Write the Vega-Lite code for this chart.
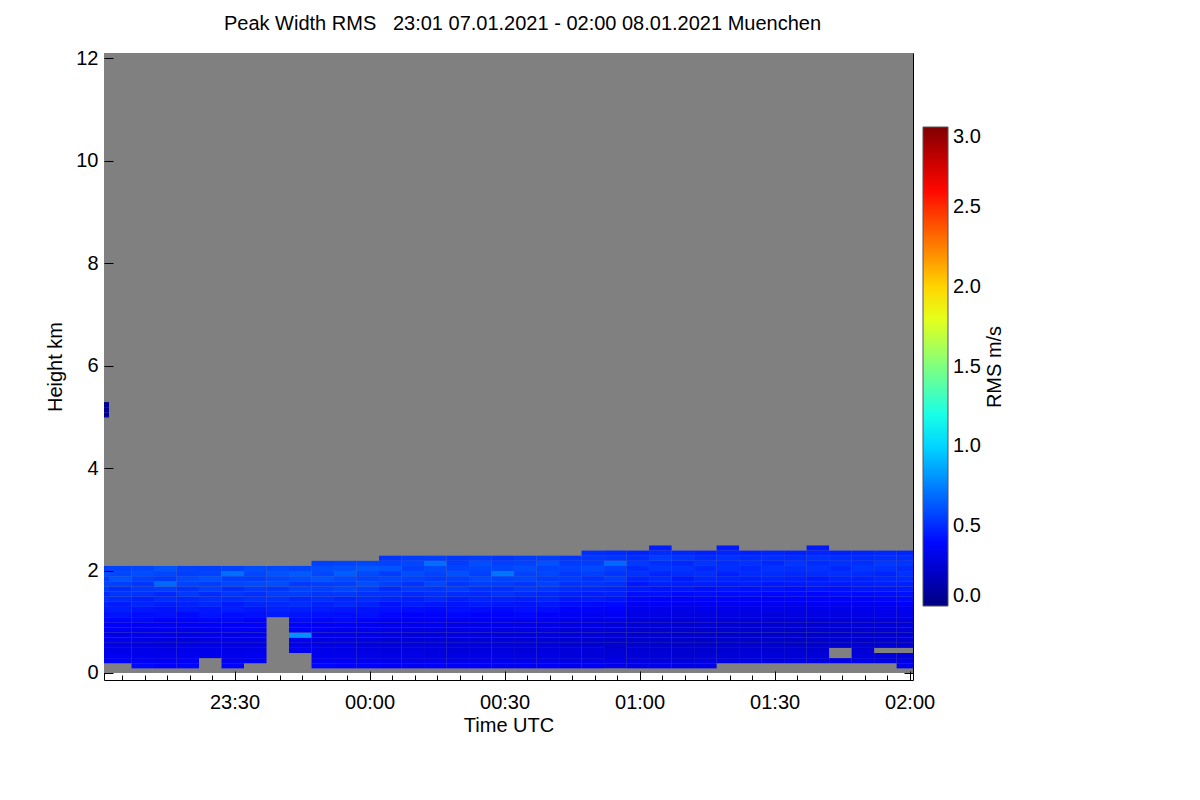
{
  "$schema": "https://vega.github.io/schema/vega-lite/v6.json",
  "width": 809,
  "height": 627,
  "autosize": {"type": "none"},
  "padding": {"left": 104, "top": 53, "right": 287, "bottom": 120},
  "background": "white",
  "title": {
    "text": "Peak Width RMS\u00a0\u00a0\u00a023:01 07.01.2021 - 02:00 08.01.2021 Muenchen",
    "font": "Liberation Sans",
    "fontSize": 20,
    "fontWeight": "normal",
    "color": "black",
    "anchor": "middle",
    "dx": 14,
    "offset": 9
  },
  "config": {
    "view": {"stroke": "black", "strokeWidth": 1},
    "font": "Liberation Sans",
    "axis": {
      "labelFont": "Liberation Sans",
      "titleFont": "Liberation Sans",
      "labelFontSize": 20,
      "titleFontSize": 20,
      "titleFontWeight": "normal",
      "labelColor": "black",
      "titleColor": "black",
      "tickColor": "black",
      "tickWidth": 1,
      "grid": false,
      "domain": false
    }
  },
  "datasets": {
    "bg": [{"m0": -5, "m1": 185, "h0": 0, "h1": 12.3}],
    "rms": [
      {"m":-3,"h":0.25,"v":0.36},{"m":-3,"h":0.35,"v":0.33},{"m":-3,"h":0.45,"v":0.31},{"m":-3,"h":0.55,"v":0.30},{"m":-3,"h":0.65,"v":0.32},{"m":-3,"h":0.75,"v":0.33},{"m":-3,"h":0.85,"v":0.36},{"m":-3,"h":0.95,"v":0.38},{"m":-3,"h":1.05,"v":0.40},{"m":-3,"h":1.15,"v":0.42},{"m":-3,"h":1.25,"v":0.45},{"m":-3,"h":1.35,"v":0.47},{"m":-3,"h":1.45,"v":0.52},{"m":-3,"h":1.55,"v":0.50},{"m":-3,"h":1.65,"v":0.55},{"m":-3,"h":1.75,"v":0.58},{"m":-3,"h":1.85,"v":0.56},{"m":-3,"h":1.95,"v":0.60},{"m":-3,"h":2.05,"v":0.55},
      {"m":-3,"h":5.05,"v":0.06},{"m":-3,"h":5.15,"v":0.05},{"m":-3,"h":5.25,"v":0.04},
      {"m":2,"h":0.25,"v":0.38},{"m":2,"h":0.35,"v":0.34},{"m":2,"h":0.45,"v":0.30},{"m":2,"h":0.55,"v":0.29},{"m":2,"h":0.65,"v":0.31},{"m":2,"h":0.75,"v":0.30},{"m":2,"h":0.85,"v":0.34},{"m":2,"h":0.95,"v":0.37},{"m":2,"h":1.05,"v":0.39},{"m":2,"h":1.15,"v":0.43},{"m":2,"h":1.25,"v":0.46},{"m":2,"h":1.35,"v":0.45},{"m":2,"h":1.45,"v":0.50},{"m":2,"h":1.55,"v":0.53},{"m":2,"h":1.65,"v":0.51},{"m":2,"h":1.75,"v":0.56},{"m":2,"h":1.85,"v":0.62},{"m":2,"h":1.95,"v":0.58},{"m":2,"h":2.05,"v":0.57},
      {"m":7,"h":0.15,"v":0.40},{"m":7,"h":0.25,"v":0.36},{"m":7,"h":0.35,"v":0.33},{"m":7,"h":0.45,"v":0.31},{"m":7,"h":0.55,"v":0.29},{"m":7,"h":0.65,"v":0.30},{"m":7,"h":0.75,"v":0.32},{"m":7,"h":0.85,"v":0.33},{"m":7,"h":0.95,"v":0.36},{"m":7,"h":1.05,"v":0.40},{"m":7,"h":1.15,"v":0.41},{"m":7,"h":1.25,"v":0.44},{"m":7,"h":1.35,"v":0.48},{"m":7,"h":1.45,"v":0.47},{"m":7,"h":1.55,"v":0.52},{"m":7,"h":1.65,"v":0.54},{"m":7,"h":1.75,"v":0.53},{"m":7,"h":1.85,"v":0.57},{"m":7,"h":1.95,"v":0.60},{"m":7,"h":2.05,"v":0.58},
      {"m":12,"h":0.15,"v":0.37},{"m":12,"h":0.25,"v":0.35},{"m":12,"h":0.35,"v":0.32},{"m":12,"h":0.45,"v":0.30},{"m":12,"h":0.55,"v":0.28},{"m":12,"h":0.65,"v":0.29},{"m":12,"h":0.75,"v":0.31},{"m":12,"h":0.85,"v":0.34},{"m":12,"h":0.95,"v":0.35},{"m":12,"h":1.05,"v":0.37},{"m":12,"h":1.15,"v":0.42},{"m":12,"h":1.25,"v":0.43},{"m":12,"h":1.35,"v":0.46},{"m":12,"h":1.45,"v":0.50},{"m":12,"h":1.55,"v":0.49},{"m":12,"h":1.65,"v":0.55},{"m":12,"h":1.75,"v":0.68},{"m":12,"h":1.85,"v":0.55},{"m":12,"h":1.95,"v":0.58},{"m":12,"h":2.05,"v":0.62},
      {"m":17,"h":0.15,"v":0.39},{"m":17,"h":0.25,"v":0.37},{"m":17,"h":0.35,"v":0.34},{"m":17,"h":0.45,"v":0.31},{"m":17,"h":0.55,"v":0.30},{"m":17,"h":0.65,"v":0.28},{"m":17,"h":0.75,"v":0.30},{"m":17,"h":0.85,"v":0.32},{"m":17,"h":0.95,"v":0.36},{"m":17,"h":1.05,"v":0.38},{"m":17,"h":1.15,"v":0.40},{"m":17,"h":1.25,"v":0.45},{"m":17,"h":1.35,"v":0.47},{"m":17,"h":1.45,"v":0.49},{"m":17,"h":1.55,"v":0.54},{"m":17,"h":1.65,"v":0.52},{"m":17,"h":1.75,"v":0.57},{"m":17,"h":1.85,"v":0.59},{"m":17,"h":1.95,"v":0.56},{"m":17,"h":2.05,"v":0.57},
      {"m":22,"h":0.35,"v":0.33},{"m":22,"h":0.45,"v":0.31},{"m":22,"h":0.55,"v":0.30},{"m":22,"h":0.65,"v":0.29},{"m":22,"h":0.75,"v":0.32},{"m":22,"h":0.85,"v":0.33},{"m":22,"h":0.95,"v":0.37},{"m":22,"h":1.05,"v":0.39},{"m":22,"h":1.15,"v":0.43},{"m":22,"h":1.25,"v":0.44},{"m":22,"h":1.35,"v":0.49},{"m":22,"h":1.45,"v":0.51},{"m":22,"h":1.55,"v":0.50},{"m":22,"h":1.65,"v":0.56},{"m":22,"h":1.75,"v":0.55},{"m":22,"h":1.85,"v":0.61},{"m":22,"h":1.95,"v":0.57},{"m":22,"h":2.05,"v":0.56},
      {"m":27,"h":0.15,"v":0.38},{"m":27,"h":0.25,"v":0.35},{"m":27,"h":0.35,"v":0.33},{"m":27,"h":0.45,"v":0.30},{"m":27,"h":0.55,"v":0.29},{"m":27,"h":0.65,"v":0.31},{"m":27,"h":0.75,"v":0.30},{"m":27,"h":0.85,"v":0.35},{"m":27,"h":0.95,"v":0.36},{"m":27,"h":1.05,"v":0.40},{"m":27,"h":1.15,"v":0.41},{"m":27,"h":1.25,"v":0.46},{"m":27,"h":1.35,"v":0.45},{"m":27,"h":1.45,"v":0.50},{"m":27,"h":1.55,"v":0.53},{"m":27,"h":1.65,"v":0.51},{"m":27,"h":1.75,"v":0.58},{"m":27,"h":1.85,"v":0.56},{"m":27,"h":1.95,"v":0.70},{"m":27,"h":2.05,"v":0.57},
      {"m":32,"h":0.25,"v":0.36},{"m":32,"h":0.35,"v":0.34},{"m":32,"h":0.45,"v":0.31},{"m":32,"h":0.55,"v":0.29},{"m":32,"h":0.65,"v":0.30},{"m":32,"h":0.75,"v":0.32},{"m":32,"h":0.85,"v":0.34},{"m":32,"h":0.95,"v":0.37},{"m":32,"h":1.05,"v":0.38},{"m":32,"h":1.15,"v":0.42},{"m":32,"h":1.25,"v":0.44},{"m":32,"h":1.35,"v":0.48},{"m":32,"h":1.45,"v":0.52},{"m":32,"h":1.55,"v":0.51},{"m":32,"h":1.65,"v":0.54},{"m":32,"h":1.75,"v":0.59},{"m":32,"h":1.85,"v":0.56},{"m":32,"h":1.95,"v":0.58},{"m":32,"h":2.05,"v":0.60},
      {"m":37,"h":1.15,"v":0.45},{"m":37,"h":1.25,"v":0.47},{"m":37,"h":1.35,"v":0.49},{"m":37,"h":1.45,"v":0.52},{"m":37,"h":1.55,"v":0.55},{"m":37,"h":1.65,"v":0.53},{"m":37,"h":1.75,"v":0.60},{"m":37,"h":1.85,"v":0.58},{"m":37,"h":1.95,"v":0.62},{"m":37,"h":2.05,"v":0.59},
      {"m":42,"h":0.45,"v":0.33},{"m":42,"h":0.55,"v":0.31},{"m":42,"h":0.65,"v":0.32},{"m":42,"h":0.75,"v":0.80},{"m":42,"h":0.85,"v":0.36},{"m":42,"h":0.95,"v":0.38},{"m":42,"h":1.05,"v":0.41},{"m":42,"h":1.15,"v":0.43},{"m":42,"h":1.25,"v":0.46},{"m":42,"h":1.35,"v":0.50},{"m":42,"h":1.45,"v":0.49},{"m":42,"h":1.55,"v":0.55},{"m":42,"h":1.65,"v":0.57},{"m":42,"h":1.75,"v":0.54},{"m":42,"h":1.85,"v":0.60},{"m":42,"h":1.95,"v":0.64},{"m":42,"h":2.05,"v":0.58},
      {"m":47,"h":0.15,"v":0.39},{"m":47,"h":0.25,"v":0.36},{"m":47,"h":0.35,"v":0.33},{"m":47,"h":0.45,"v":0.31},{"m":47,"h":0.55,"v":0.29},{"m":47,"h":0.65,"v":0.30},{"m":47,"h":0.75,"v":0.31},{"m":47,"h":0.85,"v":0.34},{"m":47,"h":0.95,"v":0.36},{"m":47,"h":1.05,"v":0.39},{"m":47,"h":1.15,"v":0.42},{"m":47,"h":1.25,"v":0.45},{"m":47,"h":1.35,"v":0.47},{"m":47,"h":1.45,"v":0.51},{"m":47,"h":1.55,"v":0.53},{"m":47,"h":1.65,"v":0.56},{"m":47,"h":1.75,"v":0.55},{"m":47,"h":1.85,"v":0.62},{"m":47,"h":1.95,"v":0.58},{"m":47,"h":2.05,"v":0.60},{"m":47,"h":2.15,"v":0.56},
      {"m":52,"h":0.15,"v":0.37},{"m":52,"h":0.25,"v":0.35},{"m":52,"h":0.35,"v":0.32},{"m":52,"h":0.45,"v":0.30},{"m":52,"h":0.55,"v":0.30},{"m":52,"h":0.65,"v":0.29},{"m":52,"h":0.75,"v":0.32},{"m":52,"h":0.85,"v":0.33},{"m":52,"h":0.95,"v":0.37},{"m":52,"h":1.05,"v":0.40},{"m":52,"h":1.15,"v":0.41},{"m":52,"h":1.25,"v":0.44},{"m":52,"h":1.35,"v":0.49},{"m":52,"h":1.45,"v":0.48},{"m":52,"h":1.55,"v":0.54},{"m":52,"h":1.65,"v":0.58},{"m":52,"h":1.75,"v":0.56},{"m":52,"h":1.85,"v":0.59},{"m":52,"h":1.95,"v":0.65},{"m":52,"h":2.05,"v":0.61},{"m":52,"h":2.15,"v":0.57},
      {"m":57,"h":0.15,"v":0.38},{"m":57,"h":0.25,"v":0.34},{"m":57,"h":0.35,"v":0.31},{"m":57,"h":0.45,"v":0.29},{"m":57,"h":0.55,"v":0.28},{"m":57,"h":0.65,"v":0.29},{"m":57,"h":0.75,"v":0.30},{"m":57,"h":0.85,"v":0.33},{"m":57,"h":0.95,"v":0.35},{"m":57,"h":1.05,"v":0.38},{"m":57,"h":1.15,"v":0.42},{"m":57,"h":1.25,"v":0.43},{"m":57,"h":1.35,"v":0.47},{"m":57,"h":1.45,"v":0.50},{"m":57,"h":1.55,"v":0.52},{"m":57,"h":1.65,"v":0.55},{"m":57,"h":1.75,"v":0.60},{"m":57,"h":1.85,"v":0.57},{"m":57,"h":1.95,"v":0.59},{"m":57,"h":2.05,"v":0.63},{"m":57,"h":2.15,"v":0.58},
      {"m":62,"h":0.15,"v":0.36},{"m":62,"h":0.25,"v":0.33},{"m":62,"h":0.35,"v":0.30},{"m":62,"h":0.45,"v":0.28},{"m":62,"h":0.55,"v":0.27},{"m":62,"h":0.65,"v":0.26},{"m":62,"h":0.75,"v":0.29},{"m":62,"h":0.85,"v":0.31},{"m":62,"h":0.95,"v":0.33},{"m":62,"h":1.05,"v":0.34},{"m":62,"h":1.15,"v":0.39},{"m":62,"h":1.25,"v":0.42},{"m":62,"h":1.35,"v":0.43},{"m":62,"h":1.45,"v":0.48},{"m":62,"h":1.55,"v":0.52},{"m":62,"h":1.65,"v":0.50},{"m":62,"h":1.75,"v":0.56},{"m":62,"h":1.85,"v":0.58},{"m":62,"h":1.95,"v":0.55},{"m":62,"h":2.05,"v":0.62},{"m":62,"h":2.15,"v":0.57},{"m":62,"h":2.25,"v":0.53},
      {"m":67,"h":0.15,"v":0.34},{"m":67,"h":0.25,"v":0.32},{"m":67,"h":0.35,"v":0.31},{"m":67,"h":0.45,"v":0.29},{"m":67,"h":0.55,"v":0.26},{"m":67,"h":0.65,"v":0.28},{"m":67,"h":0.75,"v":0.27},{"m":67,"h":0.85,"v":0.30},{"m":67,"h":0.95,"v":0.32},{"m":67,"h":1.05,"v":0.36},{"m":67,"h":1.15,"v":0.37},{"m":67,"h":1.25,"v":0.41},{"m":67,"h":1.35,"v":0.45},{"m":67,"h":1.45,"v":0.46},{"m":67,"h":1.55,"v":0.49},{"m":67,"h":1.65,"v":0.54},{"m":67,"h":1.75,"v":0.52},{"m":67,"h":1.85,"v":0.57},{"m":67,"h":1.95,"v":0.60},{"m":67,"h":2.05,"v":0.56},{"m":67,"h":2.15,"v":0.58},{"m":67,"h":2.25,"v":0.55},
      {"m":72,"h":0.15,"v":0.37},{"m":72,"h":0.25,"v":0.33},{"m":72,"h":0.35,"v":0.29},{"m":72,"h":0.45,"v":0.28},{"m":72,"h":0.55,"v":0.28},{"m":72,"h":0.65,"v":0.27},{"m":72,"h":0.75,"v":0.28},{"m":72,"h":0.85,"v":0.29},{"m":72,"h":0.95,"v":0.33},{"m":72,"h":1.05,"v":0.35},{"m":72,"h":1.15,"v":0.38},{"m":72,"h":1.25,"v":0.40},{"m":72,"h":1.35,"v":0.44},{"m":72,"h":1.45,"v":0.49},{"m":72,"h":1.55,"v":0.51},{"m":72,"h":1.65,"v":0.53},{"m":72,"h":1.75,"v":0.58},{"m":72,"h":1.85,"v":0.55},{"m":72,"h":1.95,"v":0.57},{"m":72,"h":2.05,"v":0.59},{"m":72,"h":2.15,"v":0.70},{"m":72,"h":2.25,"v":0.56},
      {"m":77,"h":0.15,"v":0.35},{"m":77,"h":0.25,"v":0.31},{"m":77,"h":0.35,"v":0.30},{"m":77,"h":0.45,"v":0.27},{"m":77,"h":0.55,"v":0.26},{"m":77,"h":0.65,"v":0.27},{"m":77,"h":0.75,"v":0.29},{"m":77,"h":0.85,"v":0.30},{"m":77,"h":0.95,"v":0.31},{"m":77,"h":1.05,"v":0.34},{"m":77,"h":1.15,"v":0.39},{"m":77,"h":1.25,"v":0.42},{"m":77,"h":1.35,"v":0.43},{"m":77,"h":1.45,"v":0.46},{"m":77,"h":1.55,"v":0.50},{"m":77,"h":1.65,"v":0.55},{"m":77,"h":1.75,"v":0.53},{"m":77,"h":1.85,"v":0.56},{"m":77,"h":1.95,"v":0.61},{"m":77,"h":2.05,"v":0.57},{"m":77,"h":2.15,"v":0.55},{"m":77,"h":2.25,"v":0.54},
      {"m":82,"h":0.15,"v":0.36},{"m":82,"h":0.25,"v":0.32},{"m":82,"h":0.35,"v":0.30},{"m":82,"h":0.45,"v":0.28},{"m":82,"h":0.55,"v":0.27},{"m":82,"h":0.65,"v":0.26},{"m":82,"h":0.75,"v":0.28},{"m":82,"h":0.85,"v":0.31},{"m":82,"h":0.95,"v":0.32},{"m":82,"h":1.05,"v":0.36},{"m":82,"h":1.15,"v":0.37},{"m":82,"h":1.25,"v":0.41},{"m":82,"h":1.35,"v":0.45},{"m":82,"h":1.45,"v":0.48},{"m":82,"h":1.55,"v":0.49},{"m":82,"h":1.65,"v":0.52},{"m":82,"h":1.75,"v":0.56},{"m":82,"h":1.85,"v":0.59},{"m":82,"h":1.95,"v":0.56},{"m":82,"h":2.05,"v":0.58},{"m":82,"h":2.15,"v":0.60},{"m":82,"h":2.25,"v":0.55},
      {"m":87,"h":0.15,"v":0.34},{"m":87,"h":0.25,"v":0.33},{"m":87,"h":0.35,"v":0.31},{"m":87,"h":0.45,"v":0.28},{"m":87,"h":0.55,"v":0.27},{"m":87,"h":0.65,"v":0.28},{"m":87,"h":0.75,"v":0.27},{"m":87,"h":0.85,"v":0.29},{"m":87,"h":0.95,"v":0.33},{"m":87,"h":1.05,"v":0.35},{"m":87,"h":1.15,"v":0.38},{"m":87,"h":1.25,"v":0.40},{"m":87,"h":1.35,"v":0.44},{"m":87,"h":1.45,"v":0.47},{"m":87,"h":1.55,"v":0.52},{"m":87,"h":1.65,"v":0.51},{"m":87,"h":1.75,"v":0.55},{"m":87,"h":1.85,"v":0.57},{"m":87,"h":1.95,"v":0.72},{"m":87,"h":2.05,"v":0.58},{"m":87,"h":2.15,"v":0.56},{"m":87,"h":2.25,"v":0.53},
      {"m":92,"h":0.15,"v":0.35},{"m":92,"h":0.25,"v":0.32},{"m":92,"h":0.35,"v":0.29},{"m":92,"h":0.45,"v":0.27},{"m":92,"h":0.55,"v":0.26},{"m":92,"h":0.65,"v":0.27},{"m":92,"h":0.75,"v":0.28},{"m":92,"h":0.85,"v":0.30},{"m":92,"h":0.95,"v":0.32},{"m":92,"h":1.05,"v":0.34},{"m":92,"h":1.15,"v":0.39},{"m":92,"h":1.25,"v":0.42},{"m":92,"h":1.35,"v":0.43},{"m":92,"h":1.45,"v":0.46},{"m":92,"h":1.55,"v":0.50},{"m":92,"h":1.65,"v":0.54},{"m":92,"h":1.75,"v":0.53},{"m":92,"h":1.85,"v":0.58},{"m":92,"h":1.95,"v":0.57},{"m":92,"h":2.05,"v":0.60},{"m":92,"h":2.15,"v":0.57},{"m":92,"h":2.25,"v":0.55},
      {"m":97,"h":0.15,"v":0.36},{"m":97,"h":0.25,"v":0.31},{"m":97,"h":0.35,"v":0.30},{"m":97,"h":0.45,"v":0.28},{"m":97,"h":0.55,"v":0.27},{"m":97,"h":0.65,"v":0.26},{"m":97,"h":0.75,"v":0.28},{"m":97,"h":0.85,"v":0.29},{"m":97,"h":0.95,"v":0.31},{"m":97,"h":1.05,"v":0.35},{"m":97,"h":1.15,"v":0.37},{"m":97,"h":1.25,"v":0.41},{"m":97,"h":1.35,"v":0.44},{"m":97,"h":1.45,"v":0.48},{"m":97,"h":1.55,"v":0.49},{"m":97,"h":1.65,"v":0.53},{"m":97,"h":1.75,"v":0.57},{"m":97,"h":1.85,"v":0.55},{"m":97,"h":1.95,"v":0.58},{"m":97,"h":2.05,"v":0.57},{"m":97,"h":2.15,"v":0.61},{"m":97,"h":2.25,"v":0.56},
      {"m":102,"h":0.15,"v":0.33},{"m":102,"h":0.25,"v":0.30},{"m":102,"h":0.35,"v":0.28},{"m":102,"h":0.45,"v":0.26},{"m":102,"h":0.55,"v":0.25},{"m":102,"h":0.65,"v":0.25},{"m":102,"h":0.75,"v":0.26},{"m":102,"h":0.85,"v":0.27},{"m":102,"h":0.95,"v":0.29},{"m":102,"h":1.05,"v":0.32},{"m":102,"h":1.15,"v":0.35},{"m":102,"h":1.25,"v":0.38},{"m":102,"h":1.35,"v":0.41},{"m":102,"h":1.45,"v":0.44},{"m":102,"h":1.55,"v":0.47},{"m":102,"h":1.65,"v":0.50},{"m":102,"h":1.75,"v":0.52},{"m":102,"h":1.85,"v":0.55},{"m":102,"h":1.95,"v":0.54},{"m":102,"h":2.05,"v":0.57},{"m":102,"h":2.15,"v":0.55},{"m":102,"h":2.25,"v":0.53},
      {"m":107,"h":0.15,"v":0.34},{"m":107,"h":0.25,"v":0.30},{"m":107,"h":0.35,"v":0.27},{"m":107,"h":0.45,"v":0.26},{"m":107,"h":0.55,"v":0.25},{"m":107,"h":0.65,"v":0.24},{"m":107,"h":0.75,"v":0.26},{"m":107,"h":0.85,"v":0.27},{"m":107,"h":0.95,"v":0.30},{"m":107,"h":1.05,"v":0.31},{"m":107,"h":1.15,"v":0.34},{"m":107,"h":1.25,"v":0.38},{"m":107,"h":1.35,"v":0.40},{"m":107,"h":1.45,"v":0.45},{"m":107,"h":1.55,"v":0.46},{"m":107,"h":1.65,"v":0.49},{"m":107,"h":1.75,"v":0.53},{"m":107,"h":1.85,"v":0.52},{"m":107,"h":1.95,"v":0.56},{"m":107,"h":2.05,"v":0.59},{"m":107,"h":2.15,"v":0.55},{"m":107,"h":2.25,"v":0.54},{"m":107,"h":2.35,"v":0.51},
      {"m":112,"h":0.15,"v":0.32},{"m":112,"h":0.25,"v":0.29},{"m":112,"h":0.35,"v":0.27},{"m":112,"h":0.45,"v":0.25},{"m":112,"h":0.55,"v":0.24},{"m":112,"h":0.65,"v":0.24},{"m":112,"h":0.75,"v":0.25},{"m":112,"h":0.85,"v":0.27},{"m":112,"h":0.95,"v":0.28},{"m":112,"h":1.05,"v":0.31},{"m":112,"h":1.15,"v":0.34},{"m":112,"h":1.25,"v":0.37},{"m":112,"h":1.35,"v":0.40},{"m":112,"h":1.45,"v":0.43},{"m":112,"h":1.55,"v":0.47},{"m":112,"h":1.65,"v":0.48},{"m":112,"h":1.75,"v":0.51},{"m":112,"h":1.85,"v":0.55},{"m":112,"h":1.95,"v":0.53},{"m":112,"h":2.05,"v":0.56},{"m":112,"h":2.15,"v":0.68},{"m":112,"h":2.25,"v":0.53},{"m":112,"h":2.35,"v":0.50},
      {"m":117,"h":0.15,"v":0.31},{"m":117,"h":0.25,"v":0.29},{"m":117,"h":0.35,"v":0.26},{"m":117,"h":0.45,"v":0.25},{"m":117,"h":0.55,"v":0.24},{"m":117,"h":0.65,"v":0.23},{"m":117,"h":0.75,"v":0.23},{"m":117,"h":0.85,"v":0.25},{"m":117,"h":0.95,"v":0.26},{"m":117,"h":1.05,"v":0.28},{"m":117,"h":1.15,"v":0.30},{"m":117,"h":1.25,"v":0.33},{"m":117,"h":1.35,"v":0.35},{"m":117,"h":1.45,"v":0.39},{"m":117,"h":1.55,"v":0.41},{"m":117,"h":1.65,"v":0.45},{"m":117,"h":1.75,"v":0.44},{"m":117,"h":1.85,"v":0.48},{"m":117,"h":1.95,"v":0.52},{"m":117,"h":2.05,"v":0.50},{"m":117,"h":2.15,"v":0.54},{"m":117,"h":2.25,"v":0.51},{"m":117,"h":2.35,"v":0.48},
      {"m":122,"h":0.15,"v":0.32},{"m":122,"h":0.25,"v":0.28},{"m":122,"h":0.35,"v":0.26},{"m":122,"h":0.45,"v":0.24},{"m":122,"h":0.55,"v":0.23},{"m":122,"h":0.65,"v":0.23},{"m":122,"h":0.75,"v":0.24},{"m":122,"h":0.85,"v":0.24},{"m":122,"h":0.95,"v":0.26},{"m":122,"h":1.05,"v":0.27},{"m":122,"h":1.15,"v":0.30},{"m":122,"h":1.25,"v":0.32},{"m":122,"h":1.35,"v":0.36},{"m":122,"h":1.45,"v":0.38},{"m":122,"h":1.55,"v":0.42},{"m":122,"h":1.65,"v":0.43},{"m":122,"h":1.75,"v":0.47},{"m":122,"h":1.85,"v":0.50},{"m":122,"h":1.95,"v":0.48},{"m":122,"h":2.05,"v":0.53},{"m":122,"h":2.15,"v":0.51},{"m":122,"h":2.25,"v":0.55},{"m":122,"h":2.35,"v":0.50},{"m":122,"h":2.45,"v":0.46},
      {"m":127,"h":0.15,"v":0.30},{"m":127,"h":0.25,"v":0.28},{"m":127,"h":0.35,"v":0.25},{"m":127,"h":0.45,"v":0.24},{"m":127,"h":0.55,"v":0.22},{"m":127,"h":0.65,"v":0.23},{"m":127,"h":0.75,"v":0.23},{"m":127,"h":0.85,"v":0.24},{"m":127,"h":0.95,"v":0.25},{"m":127,"h":1.05,"v":0.27},{"m":127,"h":1.15,"v":0.29},{"m":127,"h":1.25,"v":0.31},{"m":127,"h":1.35,"v":0.34},{"m":127,"h":1.45,"v":0.37},{"m":127,"h":1.55,"v":0.40},{"m":127,"h":1.65,"v":0.44},{"m":127,"h":1.75,"v":0.46},{"m":127,"h":1.85,"v":0.45},{"m":127,"h":1.95,"v":0.50},{"m":127,"h":2.05,"v":0.52},{"m":127,"h":2.15,"v":0.49},{"m":127,"h":2.25,"v":0.53},{"m":127,"h":2.35,"v":0.49},
      {"m":132,"h":0.15,"v":0.31},{"m":132,"h":0.25,"v":0.29},{"m":132,"h":0.35,"v":0.26},{"m":132,"h":0.45,"v":0.23},{"m":132,"h":0.55,"v":0.23},{"m":132,"h":0.65,"v":0.22},{"m":132,"h":0.75,"v":0.24},{"m":132,"h":0.85,"v":0.23},{"m":132,"h":0.95,"v":0.26},{"m":132,"h":1.05,"v":0.28},{"m":132,"h":1.15,"v":0.29},{"m":132,"h":1.25,"v":0.33},{"m":132,"h":1.35,"v":0.35},{"m":132,"h":1.45,"v":0.38},{"m":132,"h":1.55,"v":0.41},{"m":132,"h":1.65,"v":0.42},{"m":132,"h":1.75,"v":0.46},{"m":132,"h":1.85,"v":0.49},{"m":132,"h":1.95,"v":0.51},{"m":132,"h":2.05,"v":0.49},{"m":132,"h":2.15,"v":0.53},{"m":132,"h":2.25,"v":0.50},{"m":132,"h":2.35,"v":0.47},
      {"m":137,"h":0.25,"v":0.29},{"m":137,"h":0.35,"v":0.26},{"m":137,"h":0.45,"v":0.24},{"m":137,"h":0.55,"v":0.23},{"m":137,"h":0.65,"v":0.23},{"m":137,"h":0.75,"v":0.22},{"m":137,"h":0.85,"v":0.24},{"m":137,"h":0.95,"v":0.25},{"m":137,"h":1.05,"v":0.27},{"m":137,"h":1.15,"v":0.30},{"m":137,"h":1.25,"v":0.32},{"m":137,"h":1.35,"v":0.34},{"m":137,"h":1.45,"v":0.38},{"m":137,"h":1.55,"v":0.40},{"m":137,"h":1.65,"v":0.43},{"m":137,"h":1.75,"v":0.45},{"m":137,"h":1.85,"v":0.48},{"m":137,"h":1.95,"v":0.47},{"m":137,"h":2.05,"v":0.51},{"m":137,"h":2.15,"v":0.50},{"m":137,"h":2.25,"v":0.52},{"m":137,"h":2.35,"v":0.48},{"m":137,"h":2.45,"v":0.45},
      {"m":142,"h":0.25,"v":0.30},{"m":142,"h":0.35,"v":0.27},{"m":142,"h":0.45,"v":0.25},{"m":142,"h":0.55,"v":0.23},{"m":142,"h":0.65,"v":0.22},{"m":142,"h":0.75,"v":0.23},{"m":142,"h":0.85,"v":0.23},{"m":142,"h":0.95,"v":0.25},{"m":142,"h":1.05,"v":0.26},{"m":142,"h":1.15,"v":0.29},{"m":142,"h":1.25,"v":0.31},{"m":142,"h":1.35,"v":0.35},{"m":142,"h":1.45,"v":0.37},{"m":142,"h":1.55,"v":0.41},{"m":142,"h":1.65,"v":0.42},{"m":142,"h":1.75,"v":0.46},{"m":142,"h":1.85,"v":0.47},{"m":142,"h":1.95,"v":0.50},{"m":142,"h":2.05,"v":0.49},{"m":142,"h":2.15,"v":0.52},{"m":142,"h":2.25,"v":0.50},{"m":142,"h":2.35,"v":0.47},
      {"m":147,"h":0.25,"v":0.29},{"m":147,"h":0.35,"v":0.27},{"m":147,"h":0.45,"v":0.24},{"m":147,"h":0.55,"v":0.23},{"m":147,"h":0.65,"v":0.23},{"m":147,"h":0.75,"v":0.22},{"m":147,"h":0.85,"v":0.24},{"m":147,"h":0.95,"v":0.24},{"m":147,"h":1.05,"v":0.27},{"m":147,"h":1.15,"v":0.28},{"m":147,"h":1.25,"v":0.32},{"m":147,"h":1.35,"v":0.34},{"m":147,"h":1.45,"v":0.36},{"m":147,"h":1.55,"v":0.39},{"m":147,"h":1.65,"v":0.43},{"m":147,"h":1.75,"v":0.44},{"m":147,"h":1.85,"v":0.48},{"m":147,"h":1.95,"v":0.50},{"m":147,"h":2.05,"v":0.52},{"m":147,"h":2.15,"v":0.49},{"m":147,"h":2.25,"v":0.51},{"m":147,"h":2.35,"v":0.48},
      {"m":152,"h":0.25,"v":0.30},{"m":152,"h":0.35,"v":0.26},{"m":152,"h":0.45,"v":0.25},{"m":152,"h":0.55,"v":0.22},{"m":152,"h":0.65,"v":0.22},{"m":152,"h":0.75,"v":0.23},{"m":152,"h":0.85,"v":0.23},{"m":152,"h":0.95,"v":0.25},{"m":152,"h":1.05,"v":0.26},{"m":152,"h":1.15,"v":0.29},{"m":152,"h":1.25,"v":0.31},{"m":152,"h":1.35,"v":0.33},{"m":152,"h":1.45,"v":0.37},{"m":152,"h":1.55,"v":0.40},{"m":152,"h":1.65,"v":0.41},{"m":152,"h":1.75,"v":0.45},{"m":152,"h":1.85,"v":0.47},{"m":152,"h":1.95,"v":0.49},{"m":152,"h":2.05,"v":0.51},{"m":152,"h":2.15,"v":0.53},{"m":152,"h":2.25,"v":0.50},{"m":152,"h":2.35,"v":0.47},
      {"m":157,"h":0.25,"v":0.29},{"m":157,"h":0.35,"v":0.27},{"m":157,"h":0.45,"v":0.24},{"m":157,"h":0.55,"v":0.23},{"m":157,"h":0.65,"v":0.23},{"m":157,"h":0.75,"v":0.22},{"m":157,"h":0.85,"v":0.24},{"m":157,"h":0.95,"v":0.25},{"m":157,"h":1.05,"v":0.27},{"m":157,"h":1.15,"v":0.30},{"m":157,"h":1.25,"v":0.32},{"m":157,"h":1.35,"v":0.35},{"m":157,"h":1.45,"v":0.38},{"m":157,"h":1.55,"v":0.39},{"m":157,"h":1.65,"v":0.43},{"m":157,"h":1.75,"v":0.46},{"m":157,"h":1.85,"v":0.45},{"m":157,"h":1.95,"v":0.50},{"m":157,"h":2.05,"v":0.52},{"m":157,"h":2.15,"v":0.50},{"m":157,"h":2.25,"v":0.52},{"m":157,"h":2.35,"v":0.48},{"m":157,"h":2.45,"v":0.45},
      {"m":162,"h":0.25,"v":0.30},{"m":162,"h":0.55,"v":0.24},{"m":162,"h":0.65,"v":0.23},{"m":162,"h":0.75,"v":0.23},{"m":162,"h":0.85,"v":0.24},{"m":162,"h":0.95,"v":0.26},{"m":162,"h":1.05,"v":0.27},{"m":162,"h":1.15,"v":0.29},{"m":162,"h":1.25,"v":0.31},{"m":162,"h":1.35,"v":0.34},{"m":162,"h":1.45,"v":0.37},{"m":162,"h":1.55,"v":0.41},{"m":162,"h":1.65,"v":0.42},{"m":162,"h":1.75,"v":0.45},{"m":162,"h":1.85,"v":0.48},{"m":162,"h":1.95,"v":0.51},{"m":162,"h":2.05,"v":0.49},{"m":162,"h":2.15,"v":0.52},{"m":162,"h":2.25,"v":0.51},{"m":162,"h":2.35,"v":0.47},
      {"m":167,"h":0.25,"v":0.31},{"m":167,"h":0.35,"v":0.28},{"m":167,"h":0.45,"v":0.25},{"m":167,"h":0.55,"v":0.24},{"m":167,"h":0.65,"v":0.23},{"m":167,"h":0.75,"v":0.24},{"m":167,"h":0.85,"v":0.24},{"m":167,"h":0.95,"v":0.26},{"m":167,"h":1.05,"v":0.28},{"m":167,"h":1.15,"v":0.30},{"m":167,"h":1.25,"v":0.33},{"m":167,"h":1.35,"v":0.35},{"m":167,"h":1.45,"v":0.38},{"m":167,"h":1.55,"v":0.40},{"m":167,"h":1.65,"v":0.44},{"m":167,"h":1.75,"v":0.46},{"m":167,"h":1.85,"v":0.47},{"m":167,"h":1.95,"v":0.50},{"m":167,"h":2.05,"v":0.53},{"m":167,"h":2.15,"v":0.51},{"m":167,"h":2.25,"v":0.50},{"m":167,"h":2.35,"v":0.48},
      {"m":172,"h":0.25,"v":0.30},{"m":172,"h":0.35,"v":0.28},{"m":172,"h":0.55,"v":0.25},{"m":172,"h":0.65,"v":0.24},{"m":172,"h":0.75,"v":0.24},{"m":172,"h":0.85,"v":0.25},{"m":172,"h":0.95,"v":0.27},{"m":172,"h":1.05,"v":0.28},{"m":172,"h":1.15,"v":0.31},{"m":172,"h":1.25,"v":0.33},{"m":172,"h":1.35,"v":0.36},{"m":172,"h":1.45,"v":0.39},{"m":172,"h":1.55,"v":0.41},{"m":172,"h":1.65,"v":0.44},{"m":172,"h":1.75,"v":0.47},{"m":172,"h":1.85,"v":0.49},{"m":172,"h":1.95,"v":0.48},{"m":172,"h":2.05,"v":0.52},{"m":172,"h":2.15,"v":0.54},{"m":172,"h":2.25,"v":0.51},{"m":172,"h":2.35,"v":0.49},
      {"m":177,"h":0.15,"v":0.32},{"m":177,"h":0.25,"v":0.30},{"m":177,"h":0.35,"v":0.28},{"m":177,"h":0.55,"v":0.25},{"m":177,"h":0.65,"v":0.24},{"m":177,"h":0.75,"v":0.25},{"m":177,"h":0.85,"v":0.26},{"m":177,"h":0.95,"v":0.27},{"m":177,"h":1.05,"v":0.29},{"m":177,"h":1.15,"v":0.31},{"m":177,"h":1.25,"v":0.34},{"m":177,"h":1.35,"v":0.37},{"m":177,"h":1.45,"v":0.40},{"m":177,"h":1.55,"v":0.42},{"m":177,"h":1.65,"v":0.45},{"m":177,"h":1.75,"v":0.47},{"m":177,"h":1.85,"v":0.50},{"m":177,"h":1.95,"v":0.52},{"m":177,"h":2.05,"v":0.50},{"m":177,"h":2.15,"v":0.53},{"m":177,"h":2.25,"v":0.51},{"m":177,"h":2.35,"v":0.48}
    ]
  },
  "layer": [
    {
      "data": {"name": "bg"},
      "mark": {"type": "rect", "color": "#808080", "clip": true},
      "encoding": {
        "x": {
          "field": "m0", "type": "quantitative",
          "scale": {"domain": [1, 180.75], "nice": false, "zero": false},
          "axis": {
            "orient": "bottom", "values": [30, 60, 90, 120, 150, 180],
            "labelExpr": "timeFormat(datetime(2021, 0, 7, 23, datum.value), '%H:%M')",
            "ticks": false, "labelPadding": 12, "title": "Time UTC", "titlePadding": 3
          }
        },
        "x2": {"field": "m1"},
        "y": {
          "field": "h0", "type": "quantitative",
          "scale": {"domain": [-0.137, 12.107], "nice": false, "zero": false},
          "axis": {
            "orient": "left", "values": [0, 2, 4, 6, 8, 10, 12], "format": "d",
            "ticks": false, "labelPadding": 6, "title": "Height km", "titlePadding": 10
          }
        },
        "y2": {"field": "h1"}
      }
    },
    {
      "data": {"name": "rms"},
      "mark": {"type": "rect", "clip": true},
      "encoding": {
        "x": {
          "field": "m", "type": "quantitative",
          "bin": {"step": 5, "extent": [-3, 182], "anchor": 2, "nice": false},
          "scale": {"domain": [1, 180.75], "nice": false, "zero": false},
          "axis": {"orient": "bottom", "values": [30, 60, 90, 120, 150, 180], "labels": false, "tickSize": -9, "title": null}
        },
        "y": {
          "field": "h", "type": "quantitative",
          "bin": {"step": 0.1, "extent": [0, 5.3], "nice": false},
          "scale": {"domain": [-0.137, 12.107], "nice": false, "zero": false},
          "axis": {"orient": "left", "values": [0, 2, 4, 6, 8, 10, 12], "labels": false, "tickSize": -9, "title": null}
        },
        "color": {
          "field": "v", "type": "quantitative",
          "scale": {
            "domain": [0, 0.375, 1.125, 1.875, 2.625, 3],
            "range": ["#000080", "#0000ff", "#00ffff", "#ffff00", "#ff0000", "#800000"],
            "interpolate": "rgb"
          },
          "legend": {
            "orient": "none", "legendX": 819, "legendY": 74, "direction": "vertical",
            "gradientLength": 479, "gradientThickness": 25,
            "gradientStrokeColor": "#555", "gradientStrokeWidth": 1,
            "values": [0, 0.5, 1, 1.5, 2, 2.5, 3], "format": ".1f",
            "labelFont": "Liberation Sans", "labelFontSize": 20, "labelColor": "black", "labelOffset": 5,
            "title": "RMS m/s", "titleOrient": "right", "titleAnchor": "middle", "titlePadding": 24,
            "titleFont": "Liberation Sans", "titleFontSize": 20, "titleFontWeight": "normal", "titleColor": "black",
            "encode": {"title": {"update": {"angle": {"value": -90}}}}
          }
        }
      }
    },
    {
      "data": {"name": "bg"},
      "mark": {"type": "rect", "opacity": 0},
      "encoding": {
        "x": {
          "field": "m0", "type": "quantitative",
          "scale": {"domain": [1, 180.75], "nice": false, "zero": false},
          "axis": {"orient": "bottom", "values": [5, 10, 15, 20, 25, 35, 40, 45, 50, 55, 65, 70, 75, 80, 85, 95, 100, 105, 110, 115, 125, 130, 135, 140, 145, 155, 160, 165, 170, 175], "labels": false, "tickSize": -5, "title": null}
        },
        "x2": {"field": "m1"},
        "y": {
          "field": "h0", "type": "quantitative",
          "scale": {"domain": [-0.137, 12.107], "nice": false, "zero": false},
          "axis": {"orient": "left", "values": [0.5, 1, 1.5, 2.5, 3, 3.5, 4.5, 5, 5.5, 6.5, 7, 7.5, 8.5, 9, 9.5, 10.5, 11, 11.5], "labels": false, "tickSize": -5, "title": null}
        },
        "y2": {"field": "h1"}
      }
    },
    {
      "data": {"name": "bg"},
      "mark": {"type": "rect", "opacity": 0},
      "encoding": {
        "x": {
          "field": "m0", "type": "quantitative",
          "scale": {"domain": [1, 180.75], "nice": false, "zero": false},
          "axis": {"orient": "top", "values": [30, 60, 90, 120, 150, 180], "labels": false, "tickSize": -9, "title": null}
        },
        "x2": {"field": "m1"},
        "y": {
          "field": "h0", "type": "quantitative",
          "scale": {"domain": [-0.137, 12.107], "nice": false, "zero": false},
          "axis": {"orient": "right", "values": [0, 2, 4, 6, 8, 10, 12], "labels": false, "tickSize": -9, "title": null}
        },
        "y2": {"field": "h1"}
      }
    },
    {
      "data": {"name": "bg"},
      "mark": {"type": "rect", "opacity": 0},
      "encoding": {
        "x": {
          "field": "m0", "type": "quantitative",
          "scale": {"domain": [1, 180.75], "nice": false, "zero": false},
          "axis": {"orient": "top", "values": [5, 10, 15, 20, 25, 35, 40, 45, 50, 55, 65, 70, 75, 80, 85, 95, 100, 105, 110, 115, 125, 130, 135, 140, 145, 155, 160, 165, 170, 175], "labels": false, "tickSize": -5, "title": null}
        },
        "x2": {"field": "m1"},
        "y": {
          "field": "h0", "type": "quantitative",
          "scale": {"domain": [-0.137, 12.107], "nice": false, "zero": false},
          "axis": {"orient": "right", "values": [0.5, 1, 1.5, 2.5, 3, 3.5, 4.5, 5, 5.5, 6.5, 7, 7.5, 8.5, 9, 9.5, 10.5, 11, 11.5], "labels": false, "tickSize": -5, "title": null}
        },
        "y2": {"field": "h1"}
      }
    }
  ],
  "resolve": {"axis": {"x": "independent", "y": "independent"}}
}
